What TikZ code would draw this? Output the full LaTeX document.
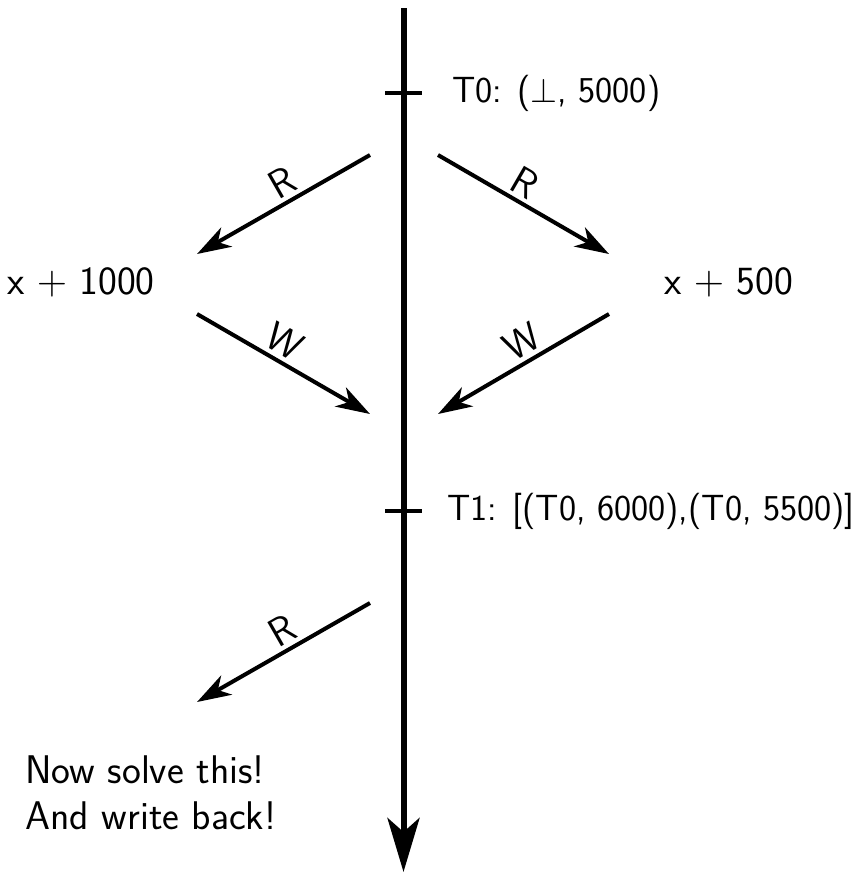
\documentclass[tikz,border=0pt]{standalone}
\usetikzlibrary{arrows.meta}
\begin{document}
\begin{tikzpicture}[x=0.5pt,y=-0.5pt,
  every node/.style={font=\sffamily\fontsize{20}{23}\selectfont, inner sep=3pt},
  tlabel/.style={font=\sffamily\fontsize{18.2}{23}\selectfont},
  timeline/.style={line width=3pt, -{Stealth[length=27pt,width=16pt,inset=7pt]}},
  tickmark/.style={line width=2pt},
  msg/.style={line width=2pt, -{Stealth[length=17pt,width=11pt,inset=5pt]}},
  lbl/.style={above, sloped, pos=0.45, inner sep=2pt},
  txt/.style={anchor=west}]
\useasboundingbox (0,0) rectangle (861,873);
% timeline
\coordinate (top) at (403.5,8);
\coordinate (bot) at (403.5,872);
\draw[timeline] (top) -- (bot);
% ticks
\coordinate (t0l) at (385,93); \coordinate (t0r) at (422,93);
\coordinate (t1l) at (385,511); \coordinate (t1r) at (422,511);
\draw[tickmark] (t0l) -- (t0r);
\draw[tickmark] (t1l) -- (t1r);
\node[txt, tlabel] (T0) at (446,93) {T0: ($\perp$, 5000)};
\node[txt, tlabel] (T1) at (441,511) {T1: [(T0, 6000),(T0, 5500)]};
% side values
\node[txt] (xl) at (1,282) {x $+$ 1000};
\node[txt] (xr) at (658,282) {x $+$ 500};
% arrows
\coordinate (a1s) at (370,155); \coordinate (a1e) at (197,254);
\coordinate (a2s) at (438,155); \coordinate (a2e) at (609,254);
\coordinate (a3s) at (197,314); \coordinate (a3e) at (370,414);
\coordinate (a4s) at (609,314); \coordinate (a4e) at (438,414);
\coordinate (a5s) at (370,603); \coordinate (a5e) at (197,702);
\draw[msg] (a1s) -- node[lbl] (r1) {R} (a1e);
\draw[msg] (a2s) -- node[lbl] (r2) {R} (a2e);
\draw[msg] (a3s) -- node[lbl] (w1) {W} (a3e);
\draw[msg] (a4s) -- node[lbl] (w2) {W} (a4e);
\draw[msg] (a5s) -- node[lbl] (r3) {R} (a5e);
% bottom text
\node[txt, anchor=base west] (n1) at (19,783) {Now solve this!};
\node[txt, anchor=base west] (n2) at (19,829) {And write back!};
\end{tikzpicture}
\end{document}
